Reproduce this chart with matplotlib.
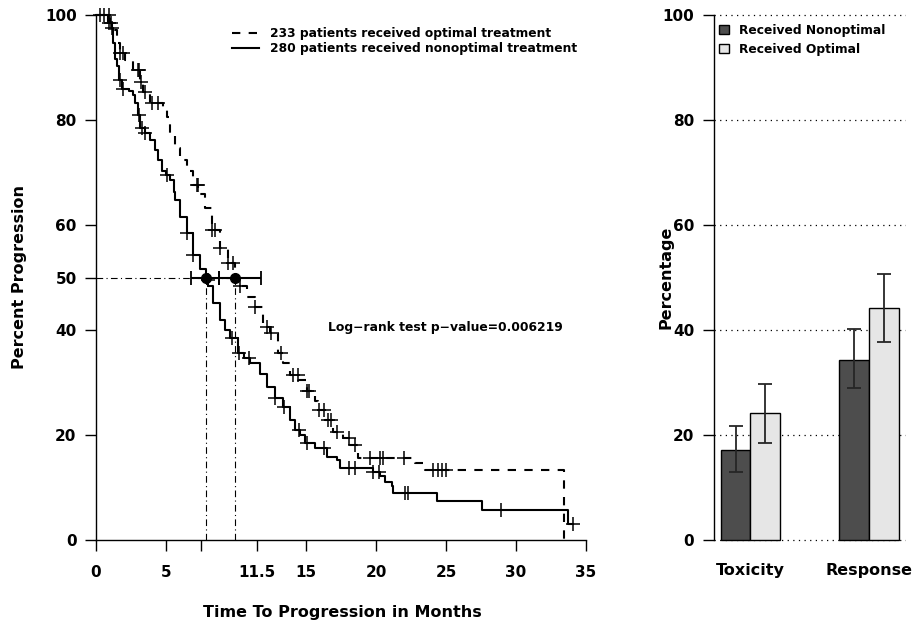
import matplotlib
matplotlib.use("Agg")
import matplotlib.pyplot as plt
import numpy as np
from matplotlib.patches import Patch

plt.rcParams["font.family"] = ["DejaVu Sans"]
plt.rcParams["font.weight"] = "bold"
plt.rcParams["axes.labelweight"] = "bold"

# Kaplan-Meier curve, nonoptimal treatment (solid): drop times and percent after drop
nonopt_t = [0, 0.88, 1.12, 1.24, 1.36, 1.48, 1.67, 1.83, 2.38, 2.67, 2.79, 3.02, 3.14,
            3.5, 3.86, 4.2, 4.45, 4.69, 5.0, 5.29, 5.6, 5.64, 6.0, 6.48, 6.95, 7.43,
            7.86, 8.02, 8.38, 8.86, 9.2, 9.57, 10.17, 10.6, 11.0, 11.71, 12.19, 12.79,
            13.38, 13.86, 14.2, 14.57, 14.93, 15.64, 16.48, 17.19, 17.43, 19.8, 20.29,
            20.64, 21.12, 21.24, 24.33, 27.6, 33.74]
nonopt_s = [100, 98.4, 97.5, 94.6, 91.7, 90.2, 87.6, 86.0, 85.6, 84.8, 83.2, 81.0, 78.4,
            77.5, 76.2, 74.3, 72.4, 70.2, 69.5, 68.6, 66.3, 64.8, 61.6, 58.4, 54.3, 51.7,
            49.6, 48.3, 45.1, 41.9, 40.0, 38.4, 35.6, 34.6, 33.7, 31.7, 29.2, 27.0,
            25.4, 22.9, 21.0, 20.0, 18.4, 17.5, 15.9, 15.2, 13.7, 13.0, 12.1,
            11.1, 10.2, 8.9, 7.5, 5.7, 3.0]
nonopt_cens = [0.3, 0.9, 1.15, 1.7, 1.9, 3.1, 3.25, 3.5, 5.07, 6.5, 6.95, 8.0, 9.7, 10.2,
               10.9, 12.8, 13.4, 14.5, 15.1, 16.3, 18.1, 18.5, 19.8, 20.2, 22.1, 22.3,
               28.9, 34.1]

# optimal treatment (dashed)
opt_t = [0, 1.0, 1.24, 1.48, 1.71, 2.07, 2.67, 3.14, 3.38, 3.86, 4.81, 5.09, 5.29, 5.64,
         6.0, 6.48, 6.95, 7.31, 7.79, 8.26, 8.86, 9.45, 9.9, 10.29, 10.76, 11.36, 11.95,
         12.43, 13.02, 13.38, 13.86, 14.45, 15.05, 15.64, 15.88, 16.36, 16.95, 17.67,
         18.14, 18.69, 22.8, 23.5, 33.4]
opt_s = [100, 98.5, 97.1, 94.6, 92.7, 91.4, 89.5, 87.3, 85.4, 83.2, 82.2, 80.6, 77.5, 74.6,
         72.4, 70.2, 67.6, 66.0, 63.2, 59.0, 55.6, 52.7, 49.8, 48.3, 46.3, 44.4, 40.6,
         39.4, 35.6, 33.7, 31.4, 30.5, 28.3, 26.5, 24.8, 22.9, 20.6, 19.4,
         18.1, 15.6, 14.6, 13.3, 0]
opt_cens = [0.6, 0.9, 1.05, 1.71, 1.95, 3.0, 3.1, 3.2, 3.5, 4.0, 4.4, 7.2, 7.3, 8.26, 8.5,
            8.86, 9.45, 9.8, 10.3, 11.36, 12.2, 12.5, 13.2, 14.1, 14.4, 15.05, 15.2, 15.9,
            16.3, 16.6, 16.8, 17.2, 18.1, 18.5, 19.6, 20.3, 20.5, 22.0, 24.1, 24.4, 24.7,
            25.0]

medians = [7.86, 9.9]
median_lo = [6.76, 8.8]
median_hi = [8.8, 11.76]
pvalue = "0.006219"

x_ticks = [0, 5, 7.5, 11.5, 15, 20, 25, 30, 35]
x_ticklabels = ["0", "5", "", "11.5", "15", "20", "25", "30", "35"]
y_ticks = [0, 20, 40, 50, 60, 80, 100]

# bar chart
groups = ["Toxicity", "Response"]
nonopt_pct = [17.2, 34.3]
nonopt_lo = [12.9, 29.0]
nonopt_hi = [21.8, 40.1]
opt_pct = [24.1, 44.2]
opt_lo = [18.5, 37.8]
opt_hi = [29.7, 50.7]


def value_at(t_knots, s_knots, times):
    idx = np.searchsorted(t_knots, times, side="right") - 1
    return np.asarray(s_knots)[idx]


fig = plt.figure(figsize=(9.16, 6.28), dpi=100)
ax = fig.add_axes([0.0865, 0.1234, 0.5686, 0.8694])

lw = 1.5
t_plot = nonopt_t + [max(nonopt_cens)]
s_plot = nonopt_s + [nonopt_s[-1]]
ax.step(opt_t, opt_s, where="post", color="black", lw=lw, dashes=(4, 4),
        label="233 patients received optimal treatment")
ax.step(t_plot, s_plot, where="post", color="black", lw=lw,
        label="280 patients received nonoptimal treatment")
ax.plot(opt_cens, value_at(opt_t, opt_s, opt_cens), "+", color="black", ms=10.5, mew=1.1)
ax.plot(nonopt_cens, value_at(nonopt_t, nonopt_s, nonopt_cens), "+", color="black",
        ms=10.5, mew=1.1)

dashdot = (0, (6, 3, 1, 3))
ax.hlines(50, 0, max(medians), color="black", lw=0.8, linestyle=dashdot)
ax.vlines(medians, 0, 50, color="black", lw=0.8, linestyle=dashdot)
for m, lo, hi in zip(medians, median_lo, median_hi):
    ax.errorbar([m], [50], xerr=[[m - lo], [hi - m]], fmt="o", color="black", ms=7,
                lw=lw, capsize=5, capthick=1.3)

ax.set_xlim(-1.2, 36)
ax.set_ylim(-2, 102)
for side in ["top", "right"]:
    ax.spines[side].set_visible(False)
ax.spines["left"].set_position(("data", 0))
ax.spines["bottom"].set_position(("data", 0))
ax.spines["left"].set_bounds(0, 100)
ax.spines["bottom"].set_bounds(0, 35)
ax.spines["left"].set_linewidth(1)
ax.spines["bottom"].set_linewidth(1)
ax.set_xticks(x_ticks)
ax.set_xticklabels(x_ticklabels)
ax.set_yticks(y_ticks)
ax.tick_params(axis="both", direction="out", length=8, width=1, labelsize=11)
ax.tick_params(axis="x", pad=10)
ax.tick_params(axis="y", pad=6)

ax.legend(loc="upper left", bbox_to_anchor=(232 / 916, 1 - 27 / 628),
          bbox_transform=fig.transFigure, frameon=False, fontsize=8.8,
          handlelength=2.2, handletextpad=0.9, labelspacing=0.15, borderpad=0,
          borderaxespad=0)
fig.text(328 / 916, 1 - 328 / 628, "Log\u2212rank test p\u2212value=" + pvalue,
         fontsize=8.9, va="center", ha="left")
fig.text(342 / 916, 1 - 613 / 628, "Time To Progression in Months", fontsize=11.5,
         ha="center", va="center")
fig.text(20 / 916, 1 - 277 / 628, "Percent Progression", fontsize=11.5, rotation=90,
         ha="center", va="center")

# right panel
bx = fig.add_axes([0.779, 0.1234, 0.2101, 0.8694])
centers = np.array([2.0, 6.0])
bx.bar(centers - 0.5, nonopt_pct, width=1, color="#4d4d4d", edgecolor="black", lw=1,
       label="Received Nonoptimal", zorder=2)
bx.bar(centers + 0.5, opt_pct, width=1, color="#e6e6e6", edgecolor="black", lw=1,
       label="Received Optimal", zorder=2)
nonopt_err = [np.array(nonopt_pct) - np.array(nonopt_lo), np.array(nonopt_hi) - np.array(nonopt_pct)]
opt_err = [np.array(opt_pct) - np.array(opt_lo), np.array(opt_hi) - np.array(opt_pct)]
bx.errorbar(centers - 0.5, nonopt_pct, yerr=nonopt_err, fmt="none", ecolor="#262626",
            elinewidth=1.3, capsize=5, capthick=1.3, zorder=3)
bx.errorbar(centers + 0.5, opt_pct, yerr=opt_err, fmt="none", ecolor="#262626",
            elinewidth=1.3, capsize=5, capthick=1.3, zorder=3)
bx.set_xlim(0.76, 7.24)
bx.set_ylim(-2, 102)
bx.set_yticks([0, 20, 40, 60, 80, 100])
bx.yaxis.grid(True, color="black", lw=0.9, linestyle=(0, (1, 3.5)))
bx.set_axisbelow(True)
for side in ["top", "right", "bottom"]:
    bx.spines[side].set_visible(False)
bx.spines["left"].set_bounds(0, 100)
bx.spines["left"].set_linewidth(1)
bx.set_xticks(centers)
bx.set_xticklabels(groups)
bx.tick_params(axis="x", length=0, labelsize=11.5, pad=9)
bx.tick_params(axis="y", direction="out", length=8, width=1, labelsize=11, pad=6)
fig.text(666 / 916, 1 - 277 / 628, "Percentage", fontsize=11.5, rotation=90,
         ha="center", va="center")
bx.legend(handles=[Patch(facecolor="#4d4d4d", edgecolor="black", lw=1, label="Received Nonoptimal"),
                   Patch(facecolor="#e6e6e6", edgecolor="black", lw=1, label="Received Optimal")],
          loc="upper left", bbox_to_anchor=(719 / 916, 1 - 24 / 628),
          bbox_transform=fig.transFigure, frameon=False, fontsize=8.8, handlelength=0.8,
          handleheight=0.8, handletextpad=0.8, labelspacing=0.45, borderpad=0, borderaxespad=0)

fig.savefig("out.png", dpi=100)
